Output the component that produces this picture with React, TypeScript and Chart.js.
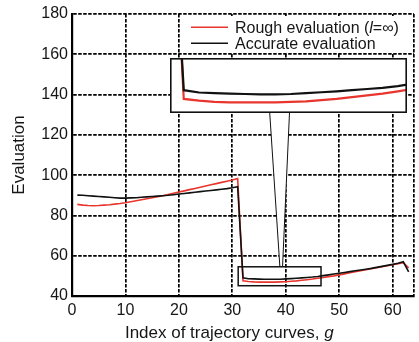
import React, { useEffect, useRef } from "react";
import { Chart, registerables } from "chart.js";

Chart.register(...registerables);

// ---------- data ----------
const G = [
  1, 2, 3, 4, 5, 6, 7, 8, 9, 10, 11, 12, 13, 14, 15, 16, 17, 18, 19, 20, 21,
  22, 23, 24, 25, 26, 27, 28, 29, 30, 31, 32, 33, 34, 35, 36, 37, 38, 39, 40,
  41, 42, 43, 44, 45, 46, 47, 48, 49, 50, 51, 52, 53, 54, 55, 56, 57, 58, 59,
  60, 61, 62, 63,
];

const ROUGH = [
  85.5, 85.1, 84.9, 84.8, 84.9, 85.1, 85.3, 85.6, 85.9, 86.3, 86.8, 87.3, 87.8,
  88.3, 88.8, 89.3, 89.8, 90.4, 91.0, 91.6, 92.2, 92.8, 93.4, 94.0, 94.6, 95.2,
  95.8, 96.4, 97.0, 97.6, 98.3, 47.5, 47.2, 47.0, 46.9, 46.9, 46.9, 46.9, 47.0,
  47.1, 47.3, 47.5, 47.8, 48.1, 48.4, 48.8, 49.2, 49.6, 50.0, 50.5, 51.0, 51.5,
  52.0, 52.5, 53.0, 53.5, 54.0, 54.5, 55.0, 55.5, 56.0, 56.5, 54.0,
];

const ACCURATE = [
  90.1, 90.0, 89.8, 89.6, 89.4, 89.2, 89.0, 88.8, 88.6, 88.6, 88.7, 88.8, 89.0,
  89.2, 89.4, 89.6, 89.8, 90.0, 90.3, 90.6, 90.9, 91.2, 91.5, 91.8, 92.1, 92.4,
  92.7, 93.0, 93.3, 93.7, 94.2, 49.0, 48.6, 48.5, 48.4, 48.35, 48.3, 48.3,
  48.35, 48.5, 48.65, 48.8, 49.0, 49.2, 49.4, 49.7, 50.1, 50.5, 50.9, 51.3,
  51.7, 52.1, 52.5, 52.9, 53.3, 53.7, 54.2, 54.7, 55.2, 55.7, 56.3, 57.0, 52.0,
];

const X_TICKS = [0, 10, 20, 30, 40, 50, 60];
const Y_TICKS = [40, 60, 80, 100, 120, 140, 160, 180];

const SERIES_NAMES = ["Rough evaluation", "Accurate evaluation"];
const X_TITLE = "Index of trajectory curves, ";
const X_TITLE_ITALIC = "g";
const Y_TITLE = "Evaluation";

// ---------- layout (main-chart data coordinates) ----------
const X_RANGE = [0, 64];
const Y_RANGE = [40, 180];
const ZOOM_X = [31.1, 46.6];
const ZOOM_Y = [45.1, 54.5];
const INSET_X = [18.25, 62.55];
const INSET_Y = [130.9, 158.3];
const FUNNEL_TOP_X = [37.0, 40.7];
const FUNNEL_BOTTOM_X = [38.9, 39.4];

const FONT = '"Liberation Sans", Arial, Helvetica, sans-serif';
const RED = "#e8352d";
const BLACK = "#111111";
const TEXT = "#161616";

const pts = (vals: number[]) => G.map((g, i) => ({ x: g, y: vals[i] }));

export default function App() {
  const mainRef = useRef<HTMLCanvasElement | null>(null);
  const insetRef = useRef<HTMLCanvasElement | null>(null);

  useEffect(() => {
    document.body.style.margin = "0";
    if (!mainRef.current || !insetRef.current) return;

    const gridDash = [3.5, 1.5];

    const decor = {
      id: "decor",
      afterDatasetsDraw(chart: any) {
        const { ctx, chartArea: ca, scales } = chart;
        const xs = scales.x;
        const ys = scales.y;
        ctx.save();
        // funnel (white filled)
        const yTop = ys.getPixelForValue(INSET_Y[0]);
        const yBot = ys.getPixelForValue(ZOOM_Y[1]);
        const p1 = [xs.getPixelForValue(FUNNEL_TOP_X[0]), yTop];
        const p2 = [xs.getPixelForValue(FUNNEL_TOP_X[1]), yTop];
        const p3 = [xs.getPixelForValue(FUNNEL_BOTTOM_X[1]), yBot];
        const p4 = [xs.getPixelForValue(FUNNEL_BOTTOM_X[0]), yBot];
        ctx.beginPath();
        ctx.moveTo(p1[0], p1[1]);
        ctx.lineTo(p2[0], p2[1]);
        ctx.lineTo(p3[0], p3[1]);
        ctx.lineTo(p4[0], p4[1]);
        ctx.closePath();
        ctx.fillStyle = "#fff";
        ctx.fill();
        ctx.strokeStyle = "#111";
        ctx.lineWidth = 1;
        ctx.beginPath();
        ctx.moveTo(p1[0], p1[1]);
        ctx.lineTo(p4[0], p4[1]);
        ctx.moveTo(p2[0], p2[1]);
        ctx.lineTo(p3[0], p3[1]);
        ctx.stroke();

        // zoom rectangle
        const rx0 = xs.getPixelForValue(ZOOM_X[0]);
        const rx1 = xs.getPixelForValue(ZOOM_X[1]);
        const ry0 = ys.getPixelForValue(ZOOM_Y[1]);
        const ry1 = ys.getPixelForValue(ZOOM_Y[0]);
        ctx.lineWidth = 1.5;
        ctx.strokeStyle = "#111";
        ctx.strokeRect(rx0, ry0, rx1 - rx0, ry1 - ry0);

        // legend
        ctx.fillStyle = "#fff";
        ctx.fillRect(ca.right - 232, ca.top + 2, 230.5, 37);
        const lx0 = ca.right - 223;
        const lx1 = ca.right - 186;
        const tx = ca.right - 179;
        ctx.lineWidth = 1.6;
        ctx.strokeStyle = RED;
        ctx.beginPath();
        ctx.moveTo(lx0, ca.top + 13.3);
        ctx.lineTo(lx1, ca.top + 13.3);
        ctx.stroke();
        ctx.strokeStyle = BLACK;
        ctx.beginPath();
        ctx.moveTo(lx0, ca.top + 29.3);
        ctx.lineTo(lx1, ca.top + 29.3);
        ctx.stroke();

        ctx.fillStyle = TEXT;
        ctx.textBaseline = "alphabetic";
        ctx.textAlign = "left";
        const nf = `16px ${FONT}`;
        const itf = `italic 16px ${FONT}`;
        let x = tx;
        const b1 = ca.top + 18.5;
        ctx.font = nf;
        const s1 = SERIES_NAMES[0] + " (";
        ctx.fillText(s1, x, b1);
        x += ctx.measureText(s1).width;
        ctx.font = itf;
        ctx.fillText("l", x, b1);
        x += ctx.measureText("l").width;
        ctx.font = nf;
        ctx.fillText("=\u221e)", x, b1);
        ctx.fillText(SERIES_NAMES[1], tx, ca.top + 34.5);
        ctx.restore();
      },
      afterDraw(chart: any) {
        const { ctx, chartArea: ca } = chart;
        ctx.save();
        ctx.fillStyle = TEXT;
        ctx.textBaseline = "alphabetic";
        // x title
        const nf = `17px ${FONT}`;
        const itf = `italic 17px ${FONT}`;
        ctx.font = nf;
        const w1 = ctx.measureText(X_TITLE).width;
        ctx.font = itf;
        const w2 = ctx.measureText(X_TITLE_ITALIC).width;
        const cx = ca.left + (ca.right - ca.left) * 0.46;
        const start = cx - (w1 + w2) / 2;
        const by = ca.bottom + 41.5;
        ctx.textAlign = "left";
        ctx.font = nf;
        ctx.fillText(X_TITLE, start, by);
        ctx.font = itf;
        ctx.fillText(X_TITLE_ITALIC, start + w1, by);
        // y title
        ctx.font = nf;
        ctx.textAlign = "center";
        ctx.translate(24, (ca.top + ca.bottom) / 2);
        ctx.rotate(-Math.PI / 2);
        ctx.fillText(Y_TITLE, 0, 0);
        ctx.restore();
      },
    };

    const tickFont = { family: FONT, size: 16 };

    const main = new Chart(mainRef.current, {
      type: "line",
      data: {
        datasets: [
          {
            label: SERIES_NAMES[0],
            data: pts(ROUGH),
            borderColor: RED,
            borderWidth: 1.6,
            pointRadius: 0,
            tension: 0,
            order: 1,
          },
          {
            label: SERIES_NAMES[1],
            data: pts(ACCURATE),
            borderColor: BLACK,
            borderWidth: 1.6,
            pointRadius: 0,
            tension: 0,
            order: 0,
          },
        ],
      },
      options: {
        responsive: false,
        animation: false,
        layout: { padding: { top: 14, right: 1, left: 0, bottom: 0 } },
        plugins: { legend: { display: false }, tooltip: { enabled: false } },
        scales: {
          x: {
            type: "linear",
            min: X_RANGE[0],
            max: X_RANGE[1],
            afterBuildTicks: (s: any) => {
              s.ticks = [...X_TICKS, X_RANGE[1]].map((v) => ({ value: v }));
            },
            afterFit: (s: any) => {
              s.height = 46;
            },
            ticks: {
              callback: (v: any) => (X_TICKS.includes(Number(v)) ? String(v) : ""),
              font: tickFont,
              color: TEXT,
              padding: 5,
              maxRotation: 0,
              autoSkip: false,
            },
            grid: { color: "#000", lineWidth: 1.7, drawTicks: false },
            border: { display: true, color: "#000", width: 2.2, dash: gridDash },
          },
          y: {
            min: Y_RANGE[0],
            max: Y_RANGE[1],
            afterBuildTicks: (s: any) => {
              s.ticks = Y_TICKS.map((v) => ({ value: v }));
            },
            afterFit: (s: any) => {
              s.width = 72;
            },
            ticks: { font: tickFont, color: TEXT, padding: 4, autoSkip: false },
            grid: { color: "#000", lineWidth: 1.7, drawTicks: false },
            border: { display: true, color: "#000", width: 2.2, dash: gridDash },
          },
        },
      },
      plugins: [decor],
    } as any);

    // inset positioned from the main chart's scales
    const xs: any = main.scales.x;
    const ys: any = main.scales.y;
    const il = xs.getPixelForValue(INSET_X[0]);
    const ir = xs.getPixelForValue(INSET_X[1]);
    const it = ys.getPixelForValue(INSET_Y[1]);
    const ib = ys.getPixelForValue(INSET_Y[0]);
    const ic = insetRef.current;
    ic.width = Math.round(ir - il);
    ic.height = Math.round(ib - it);
    ic.style.left = `${Math.round(il)}px`;
    ic.style.top = `${Math.round(it)}px`;
    ic.style.width = `${ic.width}px`;
    ic.style.height = `${ic.height}px`;

    const frame = {
      id: "frame",
      beforeDraw(chart: any) {
        const { ctx, width, height } = chart;
        ctx.save();
        ctx.fillStyle = "#fff";
        ctx.fillRect(0, 0, width, height);
        ctx.restore();
      },
      afterDraw(chart: any) {
        const { ctx, width, height } = chart;
        ctx.save();
        ctx.strokeStyle = "#111";
        ctx.lineWidth = 1.6;
        ctx.strokeRect(0.8, 0.8, width - 1.6, height - 1.6);
        ctx.restore();
      },
    };

    const inset = new Chart(ic, {
      type: "line",
      data: {
        datasets: [
          {
            data: pts(ROUGH),
            borderColor: RED,
            borderWidth: 2.2,
            pointRadius: 0,
            tension: 0,
            order: 1,
          },
          {
            data: pts(ACCURATE),
            borderColor: BLACK,
            borderWidth: 2.2,
            pointRadius: 0,
            tension: 0,
            order: 0,
          },
        ],
      },
      options: {
        responsive: false,
        animation: false,
        layout: { padding: 0 },
        plugins: { legend: { display: false }, tooltip: { enabled: false } },
        scales: {
          x: { type: "linear", min: ZOOM_X[0], max: ZOOM_X[1], display: false },
          y: { min: ZOOM_Y[0], max: ZOOM_Y[1], display: false },
        },
      },
      plugins: [frame],
    } as any);

    return () => {
      inset.destroy();
      main.destroy();
    };
  }, []);

  return (
    <div style={{ position: "relative", width: 419, height: 342 }}>
      <canvas
        ref={mainRef}
        width={419}
        height={342}
        style={{ position: "absolute", left: 0, top: 0, width: 419, height: 342 }}
      />
      <canvas ref={insetRef} style={{ position: "absolute" }} />
    </div>
  );
}
